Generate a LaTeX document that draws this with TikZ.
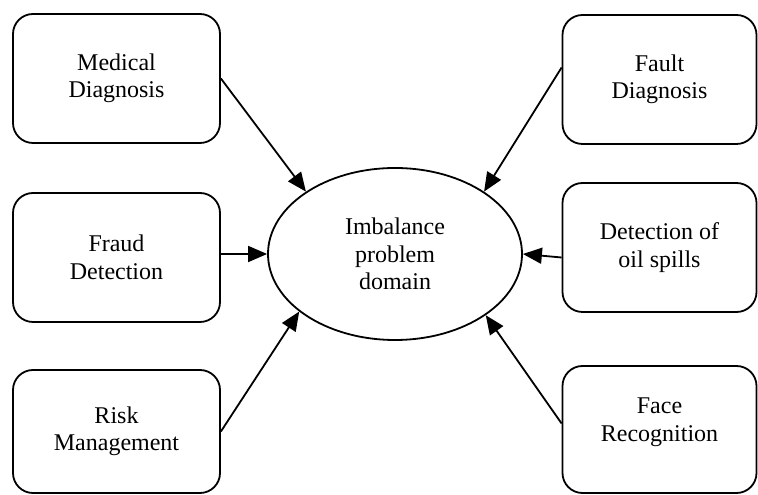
\documentclass[tikz,border=0pt]{standalone}
\usepackage{fontspec}
\setmainfont{Liberation Serif}
\usepackage{tikz}
\usetikzlibrary{arrows.meta,shapes.geometric}

\begin{document}
\begin{tikzpicture}[x=1pt, y=1pt,
  box/.style={draw, line width=1.8pt, rounded corners=20pt, align=center,
    minimum height=129pt, font=\fontsize{24}{27.5}\selectfont},
  dom/.style={draw, ellipse, line width=1.8pt, align=center,
    minimum width=254pt, minimum height=172pt, inner sep=0pt,
    font=\fontsize{24}{27.5}\selectfont},
  >={Triangle[length=19pt, width=16pt]}]
\useasboundingbox (0,0) rectangle (758,495);
\node[dom] (D) at (395, 241) {Imbalance\\problem\\domain};
\node[box, minimum width=207pt] (MD) at (116.5, 416.5) {Medical\\Diagnosis};
\node[box, minimum width=207pt] (FD) at (116.5, 237.5) {Fraud\\Detection};
\node[box, minimum width=207pt, minimum height=123pt] (RM) at
(116.5, 63.5) {Risk\\Management};
\node[box, minimum width=194pt] (FT) at (659.5, 415.5) {Fault\\Diagnosis};
\node[box, minimum width=194pt] (OS) at (659.5, 247.5) {Detection of\\oil spills};
\node[box, minimum width=194pt, minimum height=127pt, text depth=20pt] (FR) at
(659.5, 65.5) {Face\\Recognition};
\path[->, line width=1.8pt] (MD.east) edge (D.145);
\path[->, line width=1.8pt] (FD.east |- D.west) edge (D.west);
\path[->, line width=1.8pt] (RM.east) edge (D.211);
\path[->, line width=1.8pt] ([yshift=12pt]FT.west) edge (D.35);
\path[->, line width=1.8pt] ([yshift=-10pt]OS.west) edge (D.east);
\path[->, line width=1.8pt] ([yshift=6pt]FR.west) edge (D.326);
\end{tikzpicture}
\end{document}
